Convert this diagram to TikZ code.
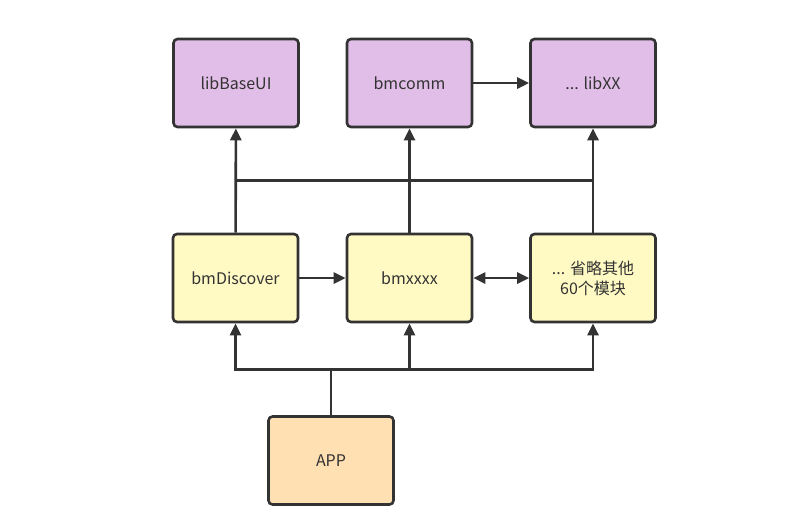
\documentclass[tikz,border=0pt]{standalone}
\usepackage{fontspec}
\setmainfont{Noto Sans CJK SC}
\usepackage{tikz}
\usetikzlibrary{arrows.meta,calc}
\definecolor{mdedge}{RGB}{51,51,51}
\definecolor{mdtext}{RGB}{51,51,51}
\definecolor{mdlib}{RGB}{225,190,231}
\definecolor{mdbiz}{RGB}{255,249,196}
\definecolor{mdapp}{RGB}{255,224,178}
\tikzset{
  mdbox/.style={
    draw=mdedge, line width=2.6pt, rounded corners=4pt,
    minimum width=125pt, minimum height=88pt, align=center,
    text=mdtext, font=\fontsize{16pt}{20pt}\selectfont
  },
  lib/.style={mdbox, fill=mdlib},
  biz/.style={mdbox, fill=mdbiz},
  appbox/.style={mdbox, fill=mdapp},
  link/.style={draw=mdedge, line width=2.6pt},
  arr/.style={link, -{Triangle[length=12pt,width=11pt]}},
  darr/.style={link, {Triangle[length=12pt,width=11pt]}-{Triangle[length=12pt,width=11pt]}}
}
\begin{document}
\begin{tikzpicture}[x=1pt,y=-1pt]
  \useasboundingbox (0,0) rectangle (804,528);
  % top row
  \node[lib] (libbase) at (236,83) {libBaseUI};
  \node[lib] (comm) at (409.5,83) {bmcomm};
  \node[lib] (libxx) at (593,83) {... libXX};
  % middle row
  \node[biz] (discover) at (235.5,278) {bmDiscover};
  \node[biz] (bmx) at (409.5,278) {bmxxxx};
  \node[biz] (others) at (593,278) {... 省略其他\\60个模块};
  % app
  \node[appbox] (app) at (331,460.5) {APP};

  \coordinate (topbus) at ($(discover.north)!0.5!(libbase.south)$);
  \coordinate (hub) at ($(app.north)!0.5!(app.north |- bmx.south)$);

  \draw[arr] (comm) -- (libxx);
  \draw[arr] (discover) -- (libbase);
  \draw[arr] (bmx) -- (comm);
  \draw[arr] (others) -- (libxx);
  \draw[link] (discover |- topbus) -- (others |- topbus);

  \draw[arr] (discover) -- (bmx);
  \draw[darr] (bmx) -- (others);

  \draw[link] (app) -- (hub);
  \draw[arr] (hub) -| (discover);
  \draw[arr] (hub) -| (bmx);
  \draw[arr] (hub) -| (others);
\end{tikzpicture}
\end{document}
